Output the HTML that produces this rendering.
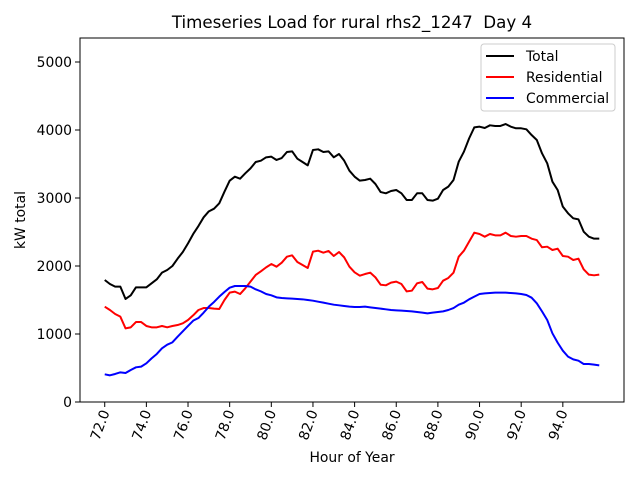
<!DOCTYPE html>
<html><head><meta charset="utf-8"><style>
body{margin:0;background:#fff}
svg{display:block;font-family:"DejaVu Sans","Liberation Sans",sans-serif}
</style></head><body>
<svg id="chart" width="640" height="480" viewBox="0 0 640 480">
<rect width="640" height="480" fill="#fff"/>
<text x="352" y="28" font-size="16.7" text-anchor="middle">Timeseries Load for rural rhs2_1247&#160; Day 4</text>
<g id="plot"></g>
<text x="352" y="462" font-size="13.9" text-anchor="middle">Hour of Year</text>
<text transform="translate(25,220) rotate(-90)" font-size="13.9" text-anchor="middle">kW total</text>
<g>
<rect x="481" y="44" width="134" height="67" rx="3" fill="#fff" fill-opacity="0.8" stroke="#ccc"/>
<line x1="486" y1="56" x2="514" y2="56" stroke="#000" stroke-width="2"/>
<text x="526" y="61" font-size="13.9">Total</text>
<line x1="486" y1="77" x2="514" y2="77" stroke="#f00" stroke-width="2"/>
<text x="526" y="82" font-size="13.9">Residential</text>
<line x1="486" y1="98" x2="514" y2="98" stroke="#00f" stroke-width="2"/>
<text x="526" y="103" font-size="13.9">Commercial</text>
</g>
</svg>
<script>
const totalKw=[1794,1735,1696,1696,1515,1569,1686,1686,1686,1745,1804,1902,1941,2000,2108,2206,2333,2471,2588,2716,2804,2843,2922,3093,3255,3314,3284,3363,3436,3529,3549,3598,3608,3559,3588,3676,3686,3578,3529,3480,3706,3716,3676,3686,3598,3647,3549,3402,3314,3255,
3265,3284,3206,3088,3069,3103,3118,3069,2971,2971,3069,3069,2971,2961,2990,3118,3167,3265,3534,3681,3877,4039,4049,4029,4069,4059,4059,4088,4049,4025,4025,4010,3926,3853,3657,3510,3240,3118,2873,2775,2701,2686,2505,2431,2402,2402];
const residentialKw=[1402,1353,1294,1255,1083,1098,1176,1176,1118,1098,1098,1118,1098,1118,1132,1157,1206,1275,1353,1382,1382,1373,1368,1500,1608,1623,1588,1672,1770,1868,1922,1980,2029,1990,2049,2137,2157,2059,2015,1971,2211,2225,2196,2221,2147,2206,2127,1990,1907,1858,
1882,1902,1833,1725,1716,1755,1770,1735,1627,1637,1745,1765,1667,1657,1676,1784,1824,1902,2137,2225,2358,2490,2471,2431,2471,2451,2451,2490,2441,2431,2441,2441,2402,2382,2275,2284,2235,2255,2147,2137,2088,2108,1951,1873,1863,1873];
const commercialKw=[407,392,412,436,426,471,510,520,569,642,706,789,843,877,961,1039,1118,1196,1235,1314,1402,1471,1549,1618,1681,1706,1706,1706,1696,1657,1627,1588,1569,1539,1529,1524,1520,1515,1510,1500,1490,1475,1461,1446,1431,1422,1412,1402,1397,1397,
1402,1392,1382,1373,1363,1353,1348,1343,1338,1333,1324,1314,1304,1314,1324,1333,1353,1382,1431,1461,1510,1549,1588,1598,1603,1608,1608,1608,1603,1598,1588,1574,1534,1451,1333,1206,1010,873,755,667,627,608,559,559,549,539];
const xTicks=[72,74,76,78,80,82,84,86,88,90,92,94];
const yTicks=[0,1000,2000,3000,4000,5000];
const startHour=72, stepHour=0.25;

const NS='http://www.w3.org/2000/svg';
const L=80,R=624,T=38,B=402;
const xmin=70.8125,xmax=96.9375,ymin=0,ymax=5353;
const sx=v=>L+(v-xmin)/(xmax-xmin)*(R-L);
const sy=v=>B-(v-ymin)/(ymax-ymin)*(B-T);
const plot=document.getElementById('plot');
function mk(tag,attrs){const e=document.createElementNS(NS,tag);for(const k in attrs)e.setAttribute(k,attrs[k]);return e;}

function series(data,color,name){
  const pts=data.map((v,i)=>sx(startHour+i*stepHour).toFixed(2)+','+sy(v).toFixed(2)).join(' ');
  const p=mk('polyline',{points:pts,fill:'none',stroke:color,'stroke-width':2,'stroke-linejoin':'round'});
  
  
  plot.appendChild(p);
}
series(totalKw,'#000','total-line');
series(residentialKw,'#f00','residential-line');
series(commercialKw,'#00f','commercial-line');

const frame=mk('rect',{x:L,y:T,width:R-L,height:B-T,fill:'none',stroke:'#000','stroke-width':1});


plot.appendChild(frame);

xTicks.forEach(t=>{
  const x=sx(t);
  const tk=mk('line',{x1:x,y1:B,x2:x,y2:B+5,stroke:'#000'});
  
  
  plot.appendChild(tk);
  const tx=mk('text',{transform:`translate(${x+5},${B+10}) rotate(-70)`,'font-size':13.9,'text-anchor':'end'});
  tx.textContent=t.toFixed(1);
  
  
  plot.appendChild(tx);
});
yTicks.forEach(t=>{
  const y=sy(t);
  const tk=mk('line',{x1:L-5,y1:y,x2:L,y2:y,stroke:'#000'});
  
  
  plot.appendChild(tk);
  const tx=mk('text',{x:L-8,y:y+5,'font-size':13.9,'text-anchor':'end'});
  tx.textContent=t;
  
  
  plot.appendChild(tx);
});
</script>
</body></html>
